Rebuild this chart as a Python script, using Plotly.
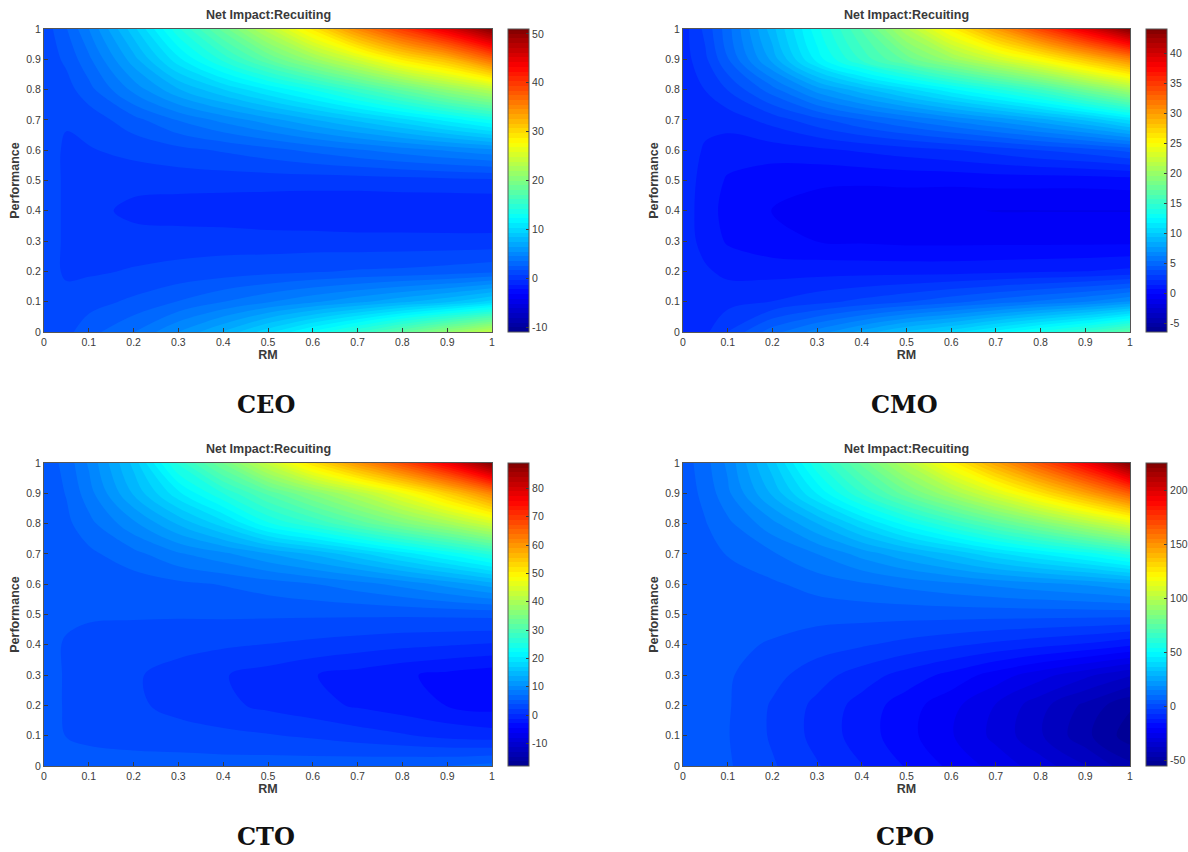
import plotly.graph_objects as go

W, H = 1188, 852
rm = [0, .05, .1, .2, .3, .4, .5, .6, .7, .8, .9, 1]
perf = [0, .1, .2, .3, .4, .5, .6, .7, .8, .9, 1]
tick_vals = [0, .1, .2, .3, .4, .5, .6, .7, .8, .9, 1]
tick_text = ["0", "0.1", "0.2", "0.3", "0.4", "0.5", "0.6", "0.7", "0.8", "0.9", "1"]
title_text = "Net Impact:Recuiting"
names = ["CEO", "CMO", "CTO", "CPO"]

ceo = [
    [1, 1.3, 2.2, 3.5, 5.5, 7.5, 10, 12.5, 15, 18, 21, 24],
    [1, .9, 1.2, 1.8, 2.6, 3.5, 4.4, 5.3, 6.2, 7.2, 8.2, 9.7],
    [1, .5, .5, .7, .9, 1.1, 1.3, 1.5, 1.7, 1.8, 2, 2.3],
    [1, .5, .3, .2, .2, .2, .1, .1, 0, 0, 0, 0],
    [1, .5, .1, -.7, -.9, -1, -1.1, -1.2, -1.2, -1.2, -1.3, -1.3],
    [1, .5, .3, .1, .1, .1, .1, .1, .1, .2, .3, .4],
    [1, .5, .55, .9, 1.3, 1.7, 2.2, 2.8, 3.4, 4, 4.6, 5.2],
    [1, .7, 1, 2.2, 3.6, 4.8, 6, 7.3, 8.6, 10, 11.6, 13.3],
    [1, 1.2, 2.2, 4.8, 7.3, 9.3, 11.3, 13.3, 15.7, 18.3, 21, 23.5],
    [1, 1.8, 3.3, 7, 11, 14.5, 18, 21.5, 25, 29, 32, 37],
    [1, 2.5, 4.5, 9, 14, 18.5, 23.5, 29, 35, 40, 45, 51],
]
cmo = [
    [1.8, 2, 3, 5, 6.5, 8, 9.5, 10.5, 12, 13.5, 15, 17],
    [1.8, 1.7, 1.9, 2.2, 2.7, 3.2, 3.7, 4.3, 4.9, 5.5, 6.1, 7],
    [1.8, 1.5, 1.2, 1.1, 1.1, 1.1, 1.1, 1.1, 1.2, 1.3, 1.4, 1.6],
    [1.8, 1.1, .5, 0, -.2, -.3, -.4, -.4, -.4, -.4, -.4, -.4],
    [1.8, 1, .3, -.2, -.4, -.6, -.8, -.9, -1, -1, -1, -1],
    [1.8, 1.1, .5, .1, -.1, -.1, 0, 0, .1, .1, .1, .2],
    [1.8, 1.3, 1, 1, 1.2, 1.5, 1.8, 2.1, 2.5, 3, 3.4, 4],
    [1.8, 1.6, 1.7, 2.5, 3.5, 4.5, 5.4, 6.3, 7.2, 8.2, 9.4, 11],
    [1.8, 2.2, 3, 5, 7.3, 9, 10.6, 12.2, 13.8, 15.6, 18, 20.5],
    [1.8, 2.8, 4.5, 8, 12, 15, 17.5, 20, 22.5, 25, 28, 31],
    [1.8, 3.2, 5, 9, 13, 16.5, 21, 25.5, 30, 34.5, 39, 44],
]
cto = [
    [4.5, 4.4, 4.4, 4.4, 4.5, 4.5, 4.6, 4.7, 4.9, 5.1, 5.4, 6],
    [4.2, 3.7, 3.4, 3.1, 2.8, 2.5, 2.2, 1.8, 1.2, .6, -.1, -.5],
    [4.3, 3.6, 3.3, 2.4, 1.5, .8, 0, -.7, -1.5, -2.2, -3, -3.6],
    [4.3, 3.6, 3.3, 2.3, 1.3, .5, -.3, -1.2, -1.9, -2.7, -3.4, -4],
    [4.2, 3.6, 3.3, 3, 2.7, 2.3, 2, 1.6, 1.2, .8, .5, .2],
    [4.2, 4, 3.9, 3.9, 3.9, 4, 4, 4, 4, 4, 4.1, 4.2],
    [4.3, 4.2, 4.2, 4.5, 5, 5.5, 6.2, 7, 8, 9.3, 11, 13],
    [4.3, 4.5, 5, 6.5, 8.5, 10, 12, 14, 16.5, 19.5, 22.5, 26],
    [4.3, 5, 6.5, 10, 14, 18, 23.5, 27, 31, 35, 39, 44],
    [4.3, 5.5, 8, 14, 20, 25.5, 31, 36, 41, 47, 54, 62],
    [4.3, 6, 9, 16, 26, 34, 43, 52, 60, 68, 77, 89],
]
cpo = [
    [3.8, 3.2, 2.4, -2, -6.5, -11, -16, -21, -26, -31, -37, -45],
    [3.8, 3.2, 2.1, -3.1, -8.3, -13.4, -18.5, -24, -30, -37, -45, -53],
    [3.8, 3.2, 2.3, -3, -8, -13, -18, -23, -29, -36, -43, -50],
    [3.8, 3.1, 2.4, -1, -5, -9, -13, -17, -22, -27, -32, -37],
    [3.8, 3.2, 2.8, 1.5, -.5, -2, -4, -6, -8, -10, -12, -15],
    [3.8, 3.5, 3.4, 3.4, 3.4, 3.4, 3.4, 3.5, 3.5, 3.5, 3.5, 3.6],
    [3.8, 3.8, 4, 5.5, 8, 10, 12, 14, 16, 18, 20, 23],
    [3.8, 4.5, 6.5, 10, 15, 21, 27, 33, 40, 46, 52, 60],
    [3.8, 6, 9.5, 18, 28, 40, 52, 63, 74, 85, 97, 110],
    [3.8, 7.5, 14, 29, 46, 63, 79, 94, 110, 127, 145, 165],
    [3.8, 9, 16, 35, 58, 78, 99, 122, 145, 168, 192, 225],
]
grids = [ceo, cmo, cto, cpo]
zmins = [-11, -6.5, -18, -55]
zmaxs = [51, 44, 89, 225]
cbar_ticks = [
    [-10, 0, 10, 20, 30, 40, 50],
    [-5, 0, 5, 10, 15, 20, 25, 30, 35, 40],
    [-10, 0, 10, 20, 30, 40, 50, 60, 70, 80],
    [-50, 0, 50, 100, 150, 200],
]

jet = [[0, "#00008f"], [.125, "#0000ff"], [.375, "#00ffff"],
       [.625, "#ffff00"], [.875, "#ff0000"], [1, "#800000"]]

# pixel boxes: left, right, top, bottom of each plot; colourbar left
boxes = [(44, 492, 29, 332, 508), (683, 1130, 29, 332, 1146),
         (44, 492, 463, 766, 508), (683, 1130, 463, 766, 1146)]
label_y = [405, 405, 836, 836]
TXT = "#3a3a3a"
FONT = "Liberation Sans"
fig = go.Figure()
anns = []
for i, (z, b) in enumerate(zip(grids, boxes)):
    l, r, t, bt, cb = b
    s = "" if i == 0 else str(i + 1)
    fig.add_trace(go.Contour(
        x=rm, y=perf, z=z, colorscale=jet, zmin=zmins[i], zmax=zmaxs[i],
        autocontour=False,
        contours=dict(start=zmins[i], end=zmaxs[i],
                      size=(zmaxs[i] - zmins[i]) / 64, coloring="fill", showlines=False),
        line=dict(width=0, smoothing=1.0), xaxis="x" + s, yaxis="y" + s, hoverinfo="skip",
        colorbar=dict(x=cb / W, xanchor="left", xpad=0, ypad=0, thickness=20.5,
                      len=(bt - t) / H, lenmode="fraction", y=1 - bt / H, yanchor="bottom",
                      tickvals=cbar_ticks[i], ticktext=[str(v) for v in cbar_ticks[i]],
                      ticks="inside", ticklen=3, tickcolor=TXT,
                      tickfont=dict(family=FONT, size=10.5, color=TXT),
                      outlinewidth=1, outlinecolor="#555555"),
    ))
    axis = dict(range=[0, 1], tickvals=tick_vals, ticktext=tick_text, ticks="inside", ticklen=4,
                tickcolor=TXT, showgrid=False, zeroline=False, showline=True, mirror=True,
                linecolor="#555555", linewidth=1,
                tickfont=dict(family=FONT, size=10.5, color=TXT))
    fig.update_layout({
        "xaxis" + s: dict(axis, domain=[l / W, r / W], anchor="y" + s,
                          title=dict(text="<b>RM</b>", standoff=3,
                                     font=dict(family=FONT, size=12.5, color=TXT))),
        "yaxis" + s: dict(axis, domain=[1 - bt / H, 1 - t / H], anchor="x" + s,
                          title=dict(text="<b>Performance</b>", standoff=3,
                                     font=dict(family=FONT, size=12.5, color=TXT))),
    })
    anns.append(dict(text="<b>" + title_text + "</b>", xref="paper", yref="paper",
                     x=(l + r) / 2 / W, y=1 - (t - 5) / H, xanchor="center", yanchor="bottom",
                     showarrow=False, font=dict(family=FONT, size=12.5, color=TXT)))
    anns.append(dict(text="<b>" + names[i] + "</b>", xref="paper", yref="paper",
                     x=((l + r) / 2 - 2) / W, y=1 - label_y[i] / H, xanchor="center", yanchor="middle",
                     showarrow=False, font=dict(family="DejaVu Serif", size=24, color="#111111")))

fig.update_layout(width=W, height=H, autosize=False,
                  margin=dict(l=0, r=0, t=0, b=0, autoexpand=False),
                  paper_bgcolor="white", plot_bgcolor="white", annotations=anns)
fig.write_html("out.html", config=dict(displayModeBar=False),
               post_script="document.body.style.margin='0';")
